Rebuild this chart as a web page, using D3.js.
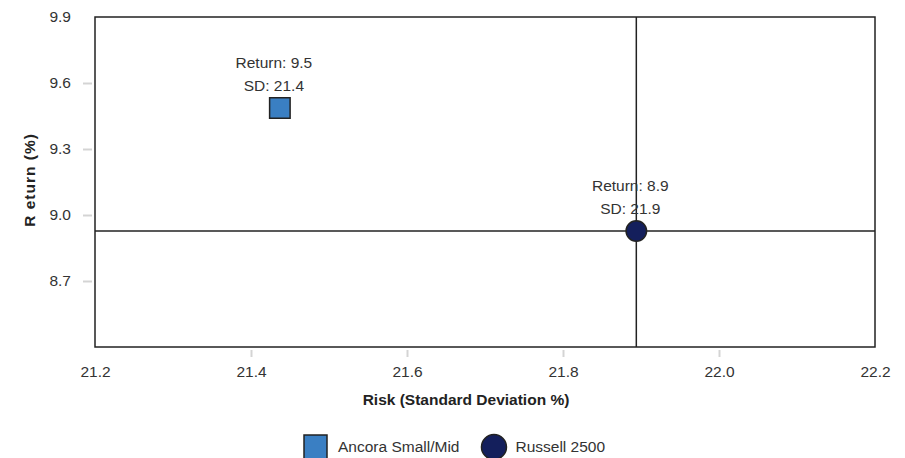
<!DOCTYPE html>
<html>
<head>
<meta charset="utf-8">
<script src="https://cdn.jsdelivr.net/npm/d3@7"></script>
<style>
  body { margin: 0; background: #fff; }
  svg text { font-family: "Liberation Sans", Arial, sans-serif; fill: #333; }
</style>
</head>
<body>
<div id="chart"></div>
<script>
// risk / return points
const seriesNames = ['Ancora Small/Mid', 'Russell 2500'];
const riskValues = [21.437, 21.894];
const returnValues = [9.486, 8.927];
const seriesShapes = ['square', 'circle'];
const seriesColors = ['#3a7fc3', '#141f5c'];
const xTicks = [21.2, 21.4, 21.6, 21.8, 22.0, 22.2];
const yTicks = [8.7, 9.0, 9.3, 9.6, 9.9];

const W = 905, H = 458;
const margin = { top: 17, right: 30, bottom: 111, left: 95 };
const w = W - margin.left - margin.right;
const h = H - margin.top - margin.bottom;

const svg = d3.select('#chart').append('svg')
    .attr('width', W).attr('height', H);
const g = svg.append('g')
    .attr('transform', `translate(${margin.left},${margin.top})`);

const x = d3.scaleLinear().domain([21.2, 22.2]).range([0, w]);
const y = d3.scaleLinear().domain([8.4, 9.9]).range([h, 0]);

// axes (ticks drawn outside the frame, light grey)
const xAxis = g.append('g')
    .attr('transform', `translate(0,${h + 3})`)
    .call(d3.axisBottom(x).tickValues(xTicks).tickFormat(d3.format('.1f')).tickSize(7).tickPadding(9));
const yAxis = g.append('g')
    .attr('transform', 'translate(-3,0)')
    .call(d3.axisLeft(y).tickValues(yTicks).tickFormat(d3.format('.1f')).tickSize(9).tickPadding(12));
[xAxis, yAxis].forEach(a => {
    a.select('.domain').remove();
    a.selectAll('.tick line').attr('stroke', '#d4d4d4').attr('stroke-width', 2);
    a.selectAll('.tick text').style('font-size', '15.5px').style('fill', '#333');
});
// hide end ticks which sit on the frame corners
xAxis.selectAll('.tick line').filter(d => d === 21.2 || d === 22.2).remove();
yAxis.selectAll('.tick line').filter(d => d === 9.9).remove();

// frame
g.append('rect')
    .attr('width', w).attr('height', h)
    .attr('fill', 'none').attr('stroke', '#222').attr('stroke-width', 1.5);

// crosshair through benchmark
const bx = x(riskValues[1]), by = y(returnValues[1]);
g.append('line').attr('x1', bx).attr('x2', bx).attr('y1', 0).attr('y2', h)
    .attr('stroke', '#222').attr('stroke-width', 1.5);
g.append('line').attr('x1', 0).attr('x2', w).attr('y1', by).attr('y2', by)
    .attr('stroke', '#222').attr('stroke-width', 1.5);

// points
const sym = {
    square: d3.symbol().type(d3.symbolSquare).size(420),
    circle: d3.symbol().type(d3.symbolCircle).size(330)
};
seriesNames.forEach((name, i) => {
    const px = x(riskValues[i]), py = y(returnValues[i]);
    g.append('path')
        .attr('d', sym[seriesShapes[i]]())
        .attr('transform', `translate(${px},${py})`)
        .attr('fill', seriesColors[i])
        .attr('stroke', '#222').attr('stroke-width', 1.5);
    g.append('text')
        .attr('x', px - 6).attr('y', py - 40)
        .attr('text-anchor', 'middle')
        .style('font-size', '15.5px')
        .text(`Return: ${returnValues[i].toFixed(1)}`);
    g.append('text')
        .attr('x', px - 6).attr('y', py - 17)
        .attr('text-anchor', 'middle')
        .style('font-size', '15.5px')
        .text(`SD: ${riskValues[i].toFixed(1)}`);
});

// axis titles
svg.append('text')
    .attr('x', 466).attr('y', 405)
    .attr('text-anchor', 'middle')
    .style('font-size', '15.5px').style('font-weight', 'bold').style('fill', '#222')
    .text('Risk (Standard Deviation %)');
svg.append('text')
    .attr('transform', 'translate(35,180) rotate(-90)')
    .attr('text-anchor', 'middle')
    .style('font-size', '15.5px').style('font-weight', 'bold').style('fill', '#222')
    .style('letter-spacing', '1px')
    .text('R eturn (%)');

// legend
const legend = svg.append('g').attr('transform', 'translate(304,447)');
let lx = 0;
seriesNames.forEach((name, i) => {
    const item = legend.append('g').attr('transform', `translate(${lx},0)`);
    if (seriesShapes[i] === 'square') {
        item.append('rect').attr('x', 0).attr('y', -12).attr('width', 23).attr('height', 24)
            .attr('fill', seriesColors[i]).attr('stroke', '#222').attr('stroke-width', 1.5);
    } else {
        item.append('circle').attr('cx', 12.5).attr('cy', 0).attr('r', 12.5)
            .attr('fill', seriesColors[i]).attr('stroke', '#222').attr('stroke-width', 1.5);
    }
    const t = item.append('text').attr('x', 34).attr('y', 5)
        .style('font-size', '15.5px').text(name);
    lx += 34 + t.node().getComputedTextLength() + 22;
});
</script>
</body>
</html>
